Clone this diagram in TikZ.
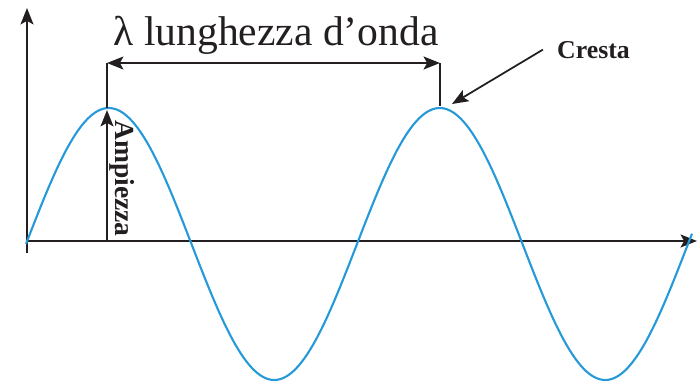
\documentclass[tikz,border=0pt]{standalone}
\usepackage{fontspec}
\setmainfont{Liberation Serif}
\usetikzlibrary{arrows.meta}
\definecolor{waveblue}{RGB}{38,154,216}
\definecolor{inkgray}{RGB}{35,31,32}

\begin{document}
\begin{tikzpicture}[x=0.03cm, y=-0.03cm,
	ink/.style={line width=1.5pt, draw=inkgray},
	tip/.style={-{Stealth[length=14pt, width=11pt, inset=3pt]}},
	wave/.style={line width=1.8pt, draw=waveblue},
	label/.style={inner sep=0pt, text=inkgray}]
	\useasboundingbox (0,0) rectangle (700,385);
	% reference points in pixel-like units
	\coordinate (origin) at (27,241);
	\coordinate (xend) at (697,241);
	\coordinate (ybot) at (27,253);
	\coordinate (yend) at (27,8);
	\coordinate (crestA) at (107,108);
	\coordinate (crestB) at (440,106);
	\coordinate (dimA) at (107,63);
	\coordinate (dimB) at (440,63);
	\coordinate (ampfoot) at (107,241);
	\coordinate (amptop) at (107,110);
	\coordinate (cresttip) at (452,104);
	% axes
	\draw[ink, tip] (origin) -- (xend);
	\draw[ink, tip] (ybot) -- (yend);
	% the wave
	\draw[wave] plot[domain=26:692, samples=240] (\x, {244-136*sin(1.08761*(\x-26))});
	% wavelength
	\draw[ink] (crestA) -- (dimA);
	\draw[ink] (crestB) -- (dimB);
	\draw[ink, {Stealth[length=14pt, width=11pt, inset=3pt]}-{Stealth[length=14pt, width=11pt, inset=3pt]}] (dimA) -- (dimB);
	\node[label, anchor=base, font=\fontsize{35.5}{38}\selectfont] (title) at (276,45) {λ lunghezza d’onda};
	% amplitude
	\draw[ink, tip] (ampfoot) -- (amptop);
	\node[label, anchor=base west, rotate=-90, font=\fontsize{23.5}{26}\selectfont\bfseries] (ampiezza) at (115,120) {Ampiezza};
	% crest
	\node[label, anchor=base west, font=\fontsize{22}{24}\selectfont\bfseries] (cresta) at (557,58) {Cresta};
	\draw[ink, tip] ([xshift=-12pt]cresta.west) -- (cresttip);
\end{tikzpicture}
\end{document}
